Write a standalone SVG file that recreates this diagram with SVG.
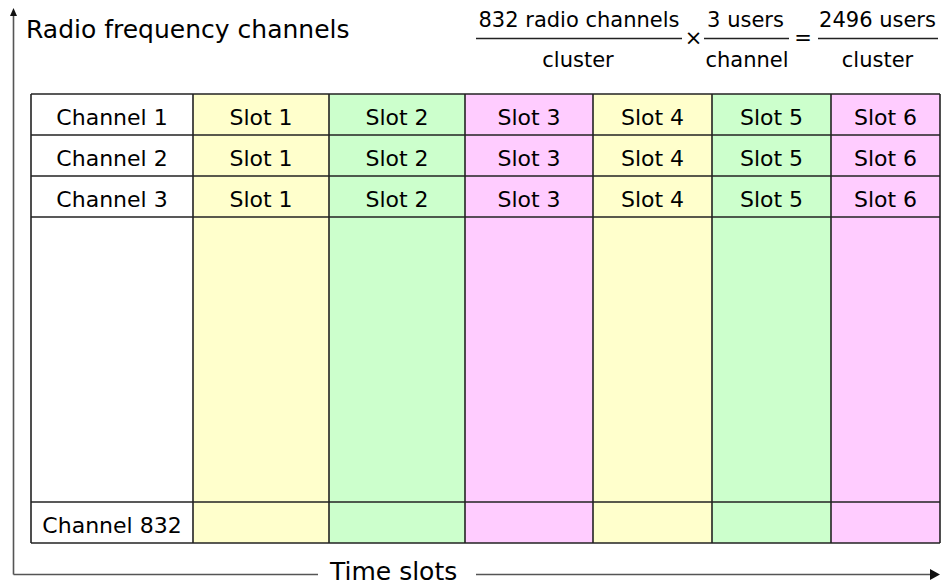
<svg xmlns="http://www.w3.org/2000/svg" width="941" height="587" viewBox="0 0 941 587">
<style>
text{font-family:"DejaVu Sans","Liberation Sans",sans-serif;fill:#000}
.cell{font-size:22px;text-anchor:middle}
.f{font-size:21px;text-anchor:middle}
.big{font-size:25px}
.grid{stroke:#222;stroke-width:1.6;fill:none}
.axis{stroke:#555;stroke-width:1.6;fill:none}
.frac{stroke:#222;stroke-width:1.4}
.y{fill:#FFFFCC}.g{fill:#CCFFCC}.p{fill:#FFCCFF}
</style>
<rect width="941" height="587" fill="#fff"/>
<g id="axes-connectors">
  <line class="axis" x1="13.5" y1="15" x2="13.5" y2="574.5"/>
  <polygon points="13.5,8 10,16 17,16" fill="#111"/>
  <line class="axis" x1="13.5" y1="574.5" x2="318" y2="574.5"/>
  <line class="axis" x1="476" y1="574.5" x2="931" y2="574.5"/>
  <polygon points="940,574.5 930,569 930,580" fill="#111"/>
</g>
<g id="title">
  <text class="big" x="26" y="38">Radio frequency channels</text>
</g>
<g id="xlabel">
  <text class="big" x="330" y="580">Time slots</text>
</g>
<g id="formula">
  <text class="f" x="579" y="27">832 radio channels</text>
  <line class="frac" x1="476" y1="38.5" x2="682" y2="38.5"/>
  <text class="f" x="578" y="67">cluster</text>
  <text class="f" x="693.5" y="45">×</text>
  <text class="f" x="745.5" y="27">3 users</text>
  <line class="frac" x1="704" y1="38.5" x2="789" y2="38.5"/>
  <text class="f" x="747" y="67">channel</text>
  <text class="f" x="803" y="45">=</text>
  <text class="f" x="877.5" y="27">2496 users</text>
  <line class="frac" x1="818" y1="38.5" x2="938" y2="38.5"/>
  <text class="f" x="877.5" y="67">cluster</text>
</g>
<g id="columns">
  <rect x="31" y="94" width="162" height="449" fill="#fff"/>
  <rect class="y" x="193" y="94" width="136" height="449"/>
  <rect class="g" x="329" y="94" width="136" height="449"/>
  <rect class="p" x="465" y="94" width="128" height="449"/>
  <rect class="y" x="593" y="94" width="119" height="449"/>
  <rect class="g" x="712" y="94" width="119" height="449"/>
  <rect class="p" x="831" y="94" width="109" height="449"/>
</g>
<g id="grid-lines" class="grid">
  <line x1="31" y1="94" x2="940" y2="94"/>
  <line x1="31" y1="135" x2="940" y2="135"/>
  <line x1="31" y1="176" x2="940" y2="176"/>
  <line x1="31" y1="217" x2="940" y2="217"/>
  <line x1="31" y1="502" x2="940" y2="502"/>
  <line x1="31" y1="543" x2="940" y2="543"/>
  <line x1="31" y1="94" x2="31" y2="543"/>
  <line x1="193" y1="94" x2="193" y2="543"/>
  <line x1="329" y1="94" x2="329" y2="543"/>
  <line x1="465" y1="94" x2="465" y2="543"/>
  <line x1="593" y1="94" x2="593" y2="543"/>
  <line x1="712" y1="94" x2="712" y2="543"/>
  <line x1="831" y1="94" x2="831" y2="543"/>
  <line x1="940" y1="94" x2="940" y2="543"/>
</g>
<g id="row-channel-1">
  <text class="cell" x="112" y="125">Channel 1</text>
  <text class="cell" x="261" y="125">Slot 1</text>
  <text class="cell" x="397" y="125">Slot 2</text>
  <text class="cell" x="529" y="125">Slot 3</text>
  <text class="cell" x="652.5" y="125">Slot 4</text>
  <text class="cell" x="771.5" y="125">Slot 5</text>
  <text class="cell" x="885.5" y="125">Slot 6</text>
</g>
<g id="row-channel-2">
  <text class="cell" x="112" y="166">Channel 2</text>
  <text class="cell" x="261" y="166">Slot 1</text>
  <text class="cell" x="397" y="166">Slot 2</text>
  <text class="cell" x="529" y="166">Slot 3</text>
  <text class="cell" x="652.5" y="166">Slot 4</text>
  <text class="cell" x="771.5" y="166">Slot 5</text>
  <text class="cell" x="885.5" y="166">Slot 6</text>
</g>
<g id="row-channel-3">
  <text class="cell" x="112" y="207">Channel 3</text>
  <text class="cell" x="261" y="207">Slot 1</text>
  <text class="cell" x="397" y="207">Slot 2</text>
  <text class="cell" x="529" y="207">Slot 3</text>
  <text class="cell" x="652.5" y="207">Slot 4</text>
  <text class="cell" x="771.5" y="207">Slot 5</text>
  <text class="cell" x="885.5" y="207">Slot 6</text>
</g>
<g id="row-channel-832">
  <text class="cell" x="112" y="533">Channel 832</text>
</g>
</svg>
